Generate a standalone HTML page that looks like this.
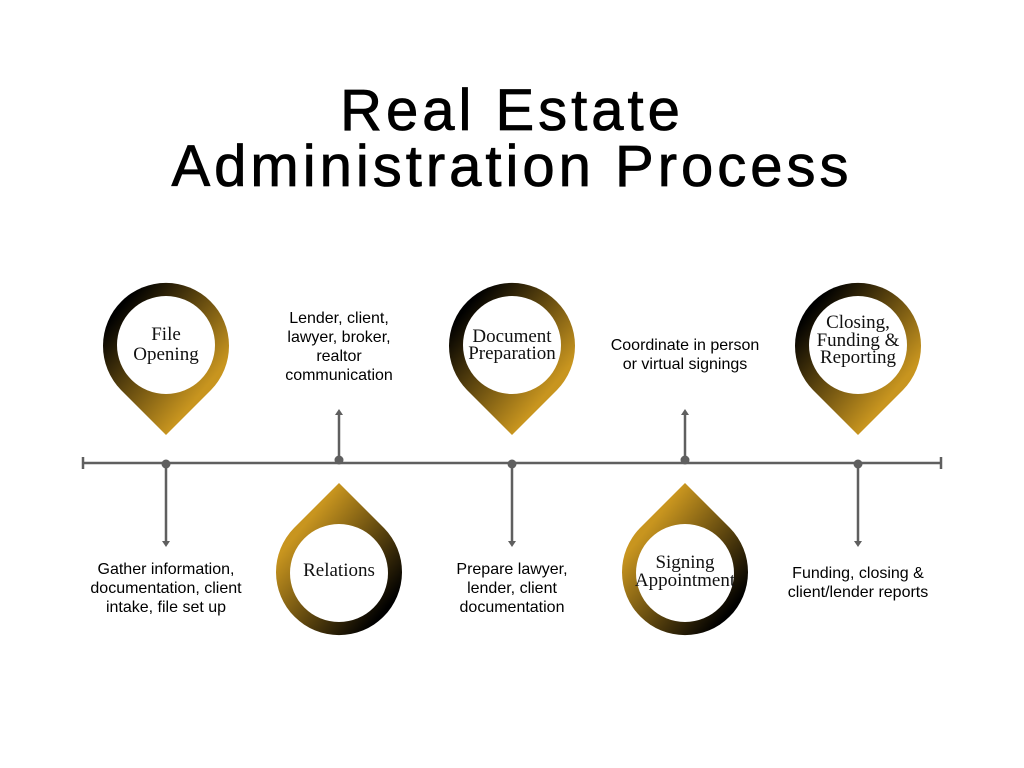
<!DOCTYPE html>
<html><head><meta charset="utf-8"><style>
body{margin:0;background:#fff;}
svg{display:block}
.t{font-family:"Liberation Sans",sans-serif;font-size:58px;fill:#000;stroke:#000;stroke-width:0.8;text-anchor:middle;letter-spacing:4px}
.p{font-family:"Liberation Serif",serif;font-size:19px;fill:#111;text-anchor:middle}
.d{font-family:"Liberation Sans",sans-serif;font-size:16px;fill:#000;text-anchor:middle}
</style></head><body>
<svg width="1024" height="768" viewBox="0 0 1024 768">
<defs>
<linearGradient id="gd" x1="0" y1="0" x2="1" y2="1"><stop offset="0.15" stop-color="#000"/><stop offset="0.75" stop-color="#c8951f"/></linearGradient>
<linearGradient id="gu" x1="0" y1="0" x2="1" y2="1"><stop offset="0.25" stop-color="#c8951f"/><stop offset="0.85" stop-color="#000"/></linearGradient>
</defs>
<text class="t" x="512" y="130">Real Estate</text>
<text class="t" x="512" y="186">Administration Process</text>
<g stroke="#5f5f5f" stroke-width="2.5" fill="none">
<line x1="83" y1="463" x2="941" y2="463"/>
<line x1="83" y1="457" x2="83" y2="469"/><line x1="941" y1="457" x2="941" y2="469"/>
<line x1="166" y1="463" x2="166" y2="542"/><line x1="339" y1="463" x2="339" y2="414"/>
<line x1="512" y1="463" x2="512" y2="542"/><line x1="685" y1="463" x2="685" y2="414"/>
<line x1="858" y1="463" x2="858" y2="542"/>
</g>
<g fill="#5f5f5f">
<circle cx="166" cy="464" r="4.5"/><circle cx="339" cy="460" r="4.5"/><circle cx="512" cy="464" r="4.5"/><circle cx="685" cy="460" r="4.5"/><circle cx="858" cy="464" r="4.5"/>
<path d="M162,541 L170,541 L166,547Z M508,541 L516,541 L512,547Z M854,541 L862,541 L858,547Z M335,415 L343,415 L339,409Z M681,415 L689,415 L685,409Z"/>
</g>
<g>
<path d="M166,435 L121,390 A63,63 0 1 1 211,390Z" fill="url(#gd)"/><circle cx="166" cy="345" r="49" fill="#fff"/>
<path d="M512,435 L467,390 A63,63 0 1 1 557,390Z" fill="url(#gd)"/><circle cx="512" cy="345" r="49" fill="#fff"/>
<path d="M858,435 L813,390 A63,63 0 1 1 903,390Z" fill="url(#gd)"/><circle cx="858" cy="345" r="49" fill="#fff"/>
<path d="M339,483 L384,528 A63,63 0 1 1 294,528Z" fill="url(#gu)"/><circle cx="339" cy="573" r="49" fill="#fff"/>
<path d="M685,483 L730,528 A63,63 0 1 1 640,528Z" fill="url(#gu)"/><circle cx="685" cy="573" r="49" fill="#fff"/>
</g>
<text class="p" x="166" y="340">File</text><text class="p" x="166" y="360">Opening</text>
<text class="p" x="512" y="342">Document</text><text class="p" x="512" y="359">Preparation</text>
<text class="p" x="858" y="328">Closing,</text><text class="p" x="858" y="346">Funding &amp;</text><text class="p" x="858" y="363">Reporting</text>
<text class="p" x="339" y="576">Relations</text>
<text class="p" x="685" y="568">Signing</text><text class="p" x="685" y="586">Appointment</text>
<g class="d">
<text x="339" y="323">Lender, client,</text><text x="339" y="342">lawyer, broker,</text><text x="339" y="361">realtor</text><text x="339" y="380">communication</text>
<text x="685" y="350">Coordinate in person</text><text x="685" y="369">or virtual signings</text>
<text x="166" y="574">Gather information,</text><text x="166" y="593">documentation, client</text><text x="166" y="612">intake, file set up</text>
<text x="512" y="574">Prepare lawyer,</text><text x="512" y="593">lender, client</text><text x="512" y="612">documentation</text>
<text x="858" y="578">Funding, closing &amp;</text><text x="858" y="597">client/lender reports</text>
</g>
</svg>
</body></html>
